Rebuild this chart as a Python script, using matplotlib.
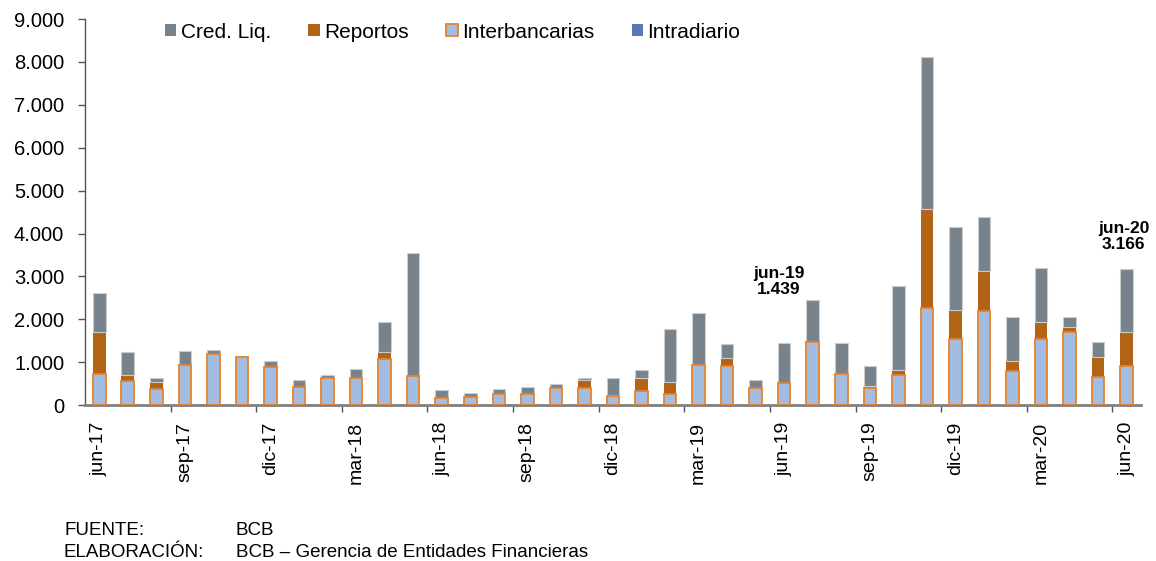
import numpy as np
from matplotlib import pyplot as plt
from matplotlib.patches import Patch

plt.rcParams['font.family'] = ['Liberation Sans', 'DejaVu Sans']

# datos mensuales jun-17 a jun-20 (millones de Bs)
meses = ['jun-17', 'jul-17', 'ago-17', 'sep-17', 'oct-17', 'nov-17', 'dic-17',
         'ene-18', 'feb-18', 'mar-18', 'abr-18', 'may-18', 'jun-18', 'jul-18',
         'ago-18', 'sep-18', 'oct-18', 'nov-18', 'dic-18', 'ene-19', 'feb-19',
         'mar-19', 'abr-19', 'may-19', 'jun-19', 'jul-19', 'ago-19', 'sep-19',
         'oct-19', 'nov-19', 'dic-19', 'ene-20', 'feb-20', 'mar-20', 'abr-20',
         'may-20', 'jun-20']
interbancarias = [735, 571, 384, 930, 1180, 1124, 876, 431, 625, 625, 1070, 680,
                  157, 197, 267, 267, 398, 398, 204, 321, 267, 930, 913, 398,
                  524, 1461, 726, 398, 703, 2258, 1539, 2202, 789, 1532, 1695,
                  665, 922]
reportos = [975, 118, 148, 0, 0, 0, 0, 0, 0, 0, 157, 0, 0, 0, 0, 0, 0, 197, 30,
            321, 272, 0, 188, 0, 0, 0, 0, 56, 117, 2309, 672, 913, 241, 412,
            132, 459, 773]
cred_liq = [906, 552, 93, 328, 94, 0, 147, 164, 71, 211, 703, 2866, 187, 84,
            108, 148, 103, 30, 398, 178, 1234, 1211, 321, 180, 915, 991, 712,
            445, 1960, 3559, 1951, 1274, 1031, 1257, 220, 344, 1471]
intradiario = [0] * len(meses)

c_inter = '#A3BCE2'
c_inter_edge = '#E8822A'
c_rep = '#B36316'
c_cred = '#78828A'
c_intra = '#5B75B8'

x = np.arange(len(meses))
inter = np.array(interbancarias)
rep = np.array(reportos)
cred = np.array(cred_liq)
intra = np.array(intradiario)

fig = plt.figure(figsize=(11.56, 5.61), dpi=100)
ax = fig.add_axes([0.0735, 0.278, 0.9135, 0.688])

w = 0.44
ax.bar(x, inter, width=w, color=c_inter, edgecolor=c_inter_edge, linewidth=1.3, zorder=3)
ax.bar(x, rep, width=w, bottom=inter, color=c_rep, edgecolor='none', zorder=2)
ax.bar(x, cred, width=w, bottom=inter + rep, color=c_cred, edgecolor='#c8cdd0',
       linewidth=0.8, zorder=2)
ax.bar(x, intra, width=w, bottom=inter + rep + cred, color=c_intra, zorder=2)

ax.set_xlim(-0.5, len(meses) - 0.5)
ax.set_ylim(0, 9000)

# ticks
ax.set_xticks(x[::3], [meses[i] for i in x[::3]], rotation=90, fontsize=14)
ax.tick_params(axis='x', which='major', length=0, pad=12)
ax.set_xticks(np.arange(2.5, len(meses) - 1, 3), minor=True)
ax.tick_params(axis='x', which='minor', length=5, width=1, color='#555555', direction='out')
yt = np.arange(0, 9001, 1000)
ax.set_yticks(yt, ['{:,}'.format(v).replace(',', '.') for v in yt], fontsize=14.5)
ax.tick_params(axis='y', length=5, width=1, color='#555555', direction='out', pad=10)

for s in ['top', 'right']:
    ax.spines[s].set_visible(False)
ax.spines['bottom'].set_color('#808080')
ax.spines['bottom'].set_linewidth(2)
ax.spines['left'].set_color('#555555')
ax.spines['left'].set_linewidth(1)

total = inter + rep + cred + intra
ax.text(23.8, 2520, 'jun-19\n{:,}'.format(total[24]).replace(',', '.'), ha='center', va='bottom',
        fontsize=12.5, fontweight='bold', linespacing=1.1)
ax.text(35.9, 3560, 'jun-20\n{:,}'.format(total[36]).replace(',', '.'), ha='center', va='bottom',
        fontsize=12.5, fontweight='bold', linespacing=1.1)

handles = [Patch(facecolor=c_cred, edgecolor='none', label='Cred. Liq.'),
           Patch(facecolor=c_rep, edgecolor='none', label='Reportos'),
           Patch(facecolor=c_inter, edgecolor=c_inter_edge, linewidth=1.3, label='Interbancarias'),
           Patch(facecolor=c_intra, edgecolor='none', label='Intradiario')]
fig.legend(handles=handles, ncol=4, loc='center left', bbox_to_anchor=(165 / 1156, 1 - 32 / 561),
           frameon=False, fontsize=15, handlelength=0.55, handleheight=0.55,
           handletextpad=0.2, columnspacing=1.8, borderpad=0, borderaxespad=0)

fig.text(0.0562, 0.046, 'FUENTE:', fontsize=13.5)
fig.text(0.204, 0.046, 'BCB', fontsize=13.5)
fig.text(0.0545, 0.007, 'ELABORACIÓN:', fontsize=13.5)
fig.text(0.204, 0.007, 'BCB – Gerencia de Entidades Financieras', fontsize=13.5)

fig.savefig('out.png', dpi=100)
